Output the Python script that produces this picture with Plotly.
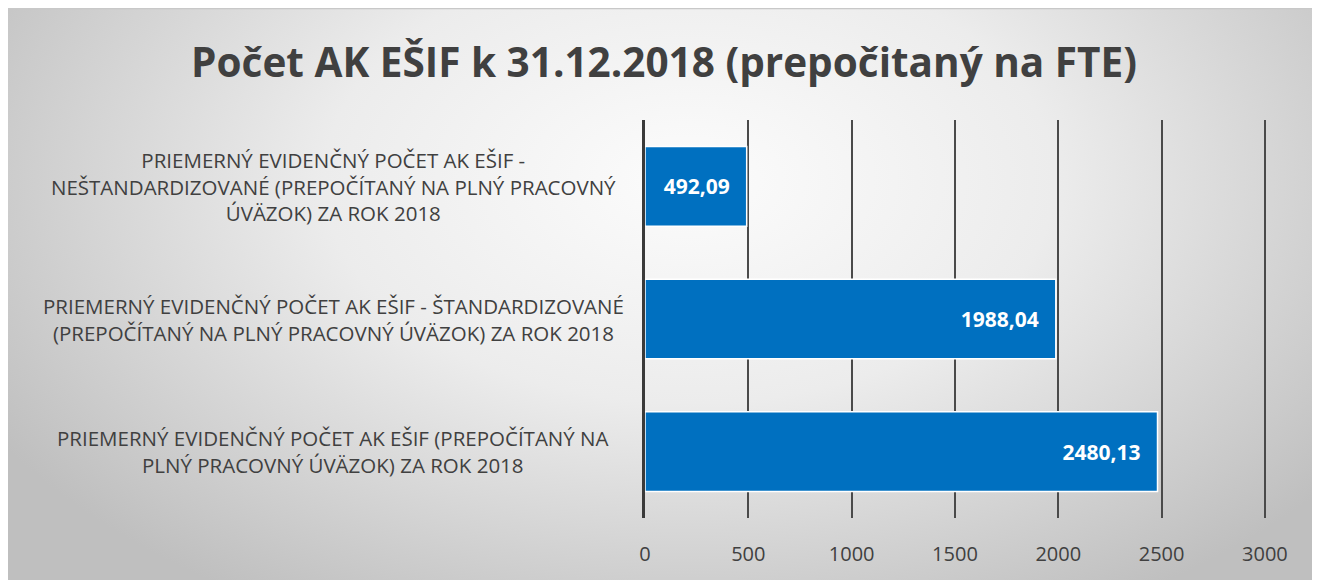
import base64
import plotly.graph_objects as go

# ---- data ----
categories = [
    "PRIEMERNÝ EVIDENČNÝ POČET AK EŠIF -<br>NEŠTANDARDIZOVANÉ (PREPOČÍTANÝ NA PLNÝ PRACOVNÝ<br>ÚVÄZOK) ZA ROK 2018",
    "PRIEMERNÝ EVIDENČNÝ POČET AK EŠIF - ŠTANDARDIZOVANÉ<br>(PREPOČÍTANÝ NA PLNÝ PRACOVNÝ ÚVÄZOK) ZA ROK 2018",
    "PRIEMERNÝ EVIDENČNÝ POČET AK EŠIF (PREPOČÍTANÝ NA<br>PLNÝ PRACOVNÝ ÚVÄZOK) ZA ROK 2018",
]
values = [492.09, 1988.04, 2480.13]
tick_values = [0, 500, 1000, 1500, 2000, 2500, 3000]
title_text = "Počet AK EŠIF k 31.12.2018 (prepočitaný na FTE)"

FONT = "Open Sans"
TXT = "#404040"

# figure sits inside the page body (8px default margin)
W, H = 1310, 572
L, R, T, B = 637, 51, 112, 62
pw = W - L - R
ph = H - T - B

# radial gradient background for the chart card
svg = """<svg xmlns='http://www.w3.org/2000/svg' width='1310' height='572' viewBox='0 0 1310 572' preserveAspectRatio='none'>
<defs><radialGradient id='g' cx='0.52' cy='0.30' r='0.62' fx='0.52' fy='0.30' gradientTransform='translate(0.52 0.30) scale(1 1.4) translate(-0.52 -0.30)'>
<stop offset='0' stop-color='#fcfcfc'/><stop offset='0.45' stop-color='#ececec'/><stop offset='1' stop-color='#bfbfbf'/></radialGradient></defs>
<rect x='0' y='0' width='1310' height='572' fill='url(#g)'/>
<line x1='0' y1='0.5' x2='1310' y2='0.5' stroke='#c8c8c8' stroke-width='1.5'/>
</svg>"""
bg_src = "data:image/svg+xml;base64," + base64.b64encode(svg.encode("utf-8")).decode()

fig = go.Figure()
fig.add_trace(go.Bar(
    x=values,
    y=categories,
    orientation="h",
    marker=dict(color="#0070C0", line=dict(color="#ffffff", width=1.5)),
    texttemplate="%{x:.2f}\u2002\u2009",
    textposition="inside",
    insidetextanchor="end",
    textfont=dict(family=FONT, size=21, color="#ffffff", weight="bold"),
    constraintext="none",
    width=0.6,
    hoverinfo="skip",
))

# category labels as centered multi-line annotations
for c in categories:
    fig.add_annotation(
        x=(325 - L) / pw, xref="paper", y=c, yref="y",
        text=c, showarrow=False, xanchor="center", yanchor="middle",
        align="center", font=dict(family=FONT, size=20.5, color=TXT),
    )

fig.update_layout(
    width=W, height=H,
    margin=dict(l=L, r=R, t=T, b=B),
    paper_bgcolor="#ffffff",
    plot_bgcolor="rgba(0,0,0,0)",
    separators=", ",
    showlegend=False,
    title=dict(text="<b>" + title_text + "</b>", x=656 / W, xanchor="center",
               y=1 - 55 / H, yanchor="middle",
               font=dict(family=FONT, size=40.5, color=TXT)),
    images=[dict(source=bg_src, xref="paper", yref="paper",
                 x=-L / pw, y=1 + T / ph,
                 sizex=W / pw, sizey=H / ph,
                 xanchor="left", yanchor="top", sizing="stretch", layer="below")],
    xaxis=dict(
        range=[0, 3010], tickvals=tick_values, showgrid=True,
        gridcolor="#4a4a4a", gridwidth=1.6, zeroline=False, showline=False,
        tickfont=dict(family=FONT, size=20, color=TXT),
        ticks="", ticklabelstandoff=22, fixedrange=True,
    ),
    yaxis=dict(
        autorange="reversed", showticklabels=False, showgrid=False,
        showline=True, linecolor="#3a3a3a", linewidth=3, zeroline=False,
        ticks="", fixedrange=True,
    ),
)

fig.write_html("out.html")
